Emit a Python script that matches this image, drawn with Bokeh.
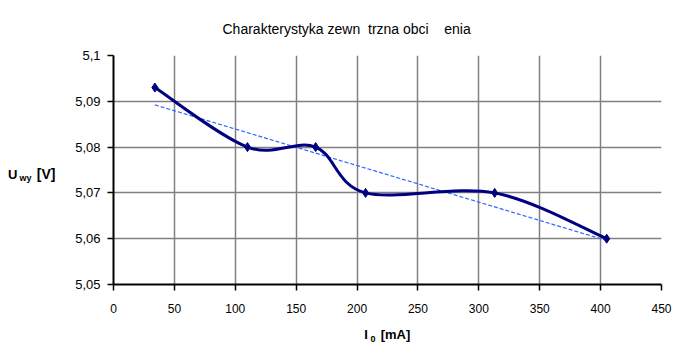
import numpy as np
from bokeh.plotting import figure
from bokeh.models import ColumnDataSource, FixedTicker, LinearAxis, Range1d
from bokeh.embed import file_html
from bokeh.resources import INLINE

# ---- data ----
current_mA = [34, 110, 166, 207, 313, 405]
voltage_V = [5.093, 5.08, 5.08, 5.07, 5.07, 5.06]
x_ticks = [0, 50, 100, 150, 200, 250, 300, 350, 400, 450]
y_ticks = [5.05, 5.06, 5.07, 5.08, 5.09, 5.1]
y_tick_labels = ["5,05", "5,06", "5,07", "5,08", "5,09", "5,1"]
title_text = "Charakterystyka zewn\u00a0 trzna obci\u00a0\u00a0\u00a0 enia"

FONT = "Liberation Sans"
NAVY = "#000080"
TREND = "#3366FF"

FL, FR, FT, FB = 113, 661, 55, 284   # frame edges in page pixels
W, H = 687, 347
p = figure(width=W, height=H, output_backend="svg", toolbar_location=None,
           x_range=Range1d(0, 450), y_range=Range1d(5.05, 5.1),
           min_border_left=FL, min_border_right=W - FR, min_border_top=FT,
           min_border_bottom=H - FB)
p.outline_line_color = None
p.background_fill_color = "white"

p.title.text = title_text
p.title.text_font = FONT
p.title.text_font_size = "14px"
p.title.text_font_style = "normal"
p.title.text_color = "black"
p.title.align = "left"
p.title.offset = 109
p.title.standoff = 37

# axes
for ax in (p.xaxis[0], p.yaxis[0]):
    ax.axis_line_color = "black"
    ax.axis_line_width = 2
    ax.major_tick_line_color = "black"
    ax.major_tick_line_width = 1.5
    ax.major_tick_out = 6
    ax.major_tick_in = 0
    ax.minor_tick_line_color = None
    ax.major_label_text_font = FONT
    ax.major_label_text_font_size = "12px"
    ax.major_label_text_color = "black"
p.yaxis.major_label_text_font_size = "13px"
p.xaxis.ticker = FixedTicker(ticks=x_ticks)
p.yaxis.ticker = FixedTicker(ticks=y_ticks)
p.yaxis.major_label_overrides = {t: l for t, l in zip(y_ticks, y_tick_labels)}
p.xaxis.major_label_standoff = 13
p.yaxis.major_label_standoff = 7

p.xgrid.ticker = FixedTicker(ticks=x_ticks)
p.ygrid.ticker = FixedTicker(ticks=y_ticks)
for g in (p.xgrid[0], p.ygrid[0]):
    g.grid_line_color = "#808080"
    g.grid_line_width = 1.5


# axis titles with subscripts, built from label-only axes (placed outside the frame)
def text_axis(side, positions, texts, size, standoff):
    ax = LinearAxis(ticker=FixedTicker(ticks=positions),
                    major_label_overrides=dict(zip(positions, texts)))
    ax.axis_line_color = None
    ax.major_tick_line_color = None
    ax.minor_tick_line_color = None
    ax.major_tick_out = 0
    ax.major_tick_in = 0
    ax.major_label_standoff = standoff
    ax.major_label_text_font = FONT
    ax.major_label_text_font_size = size
    ax.major_label_text_font_style = "bold"
    ax.major_label_text_color = "black"
    p.add_layout(ax, side)


def yv(py):  # page pixel row -> voltage
    return 5.1 - (py - FT) / (FB - FT) * 0.05


def xv(px):  # page pixel column -> mA
    return (px - FL) / (FR - FL) * 450


text_axis("left", [yv(173.5)], ["[V]"], "14px", 17)
text_axis("left", [yv(177.5)], ["wy"], "9px", 2)
text_axis("left", [yv(173.5)], ["U"], "13px", -1)

text_axis("below", [xv(365.5), xv(395)], ["I", "[mA]"], "13px", 11)
text_axis("below", [xv(372.5)], ["0"], "9px", -9)

# trend line (linear regression of the data)
xs = np.array(current_mA, float)
ys = np.array(voltage_V, float)
k, b = np.polyfit(xs, ys, 1)
p.line([xs[0], xs[-1]], [k * xs[0] + b, k * xs[-1] + b], line_color=TREND,
       line_width=1.2, line_dash="4 2")

# smoothed line (Catmull-Rom style bezier segments, as Excel's smoothed line)
n = len(xs)
x0, y0, x1, y1, cx0, cy0, cx1, cy1 = [], [], [], [], [], [], [], []
for i in range(n - 1):
    pm = i - 1 if i > 0 else 0
    pp = i + 2 if i + 2 < n else n - 1
    x0.append(xs[i]); y0.append(ys[i]); x1.append(xs[i + 1]); y1.append(ys[i + 1])
    cx0.append(xs[i] + (xs[i + 1] - xs[pm]) / 6); cy0.append(ys[i] + (ys[i + 1] - ys[pm]) / 6)
    cx1.append(xs[i + 1] - (xs[pp] - xs[i]) / 6); cy1.append(ys[i + 1] - (ys[pp] - ys[i]) / 6)
bsrc = ColumnDataSource(dict(x0=x0, y0=y0, x1=x1, y1=y1, cx0=cx0, cy0=cy0, cx1=cx1, cy1=cy1))
p.bezier(x0="x0", y0="y0", x1="x1", y1="y1", cx0="cx0", cy0="cy0", cx1="cx1", cy1="cy1",
         source=bsrc, line_color=NAVY, line_width=3)
p.scatter(current_mA, voltage_V, marker="diamond", size=9, fill_color=NAVY, line_color=NAVY)

open("out.html", "w").write(file_html(p, INLINE))
